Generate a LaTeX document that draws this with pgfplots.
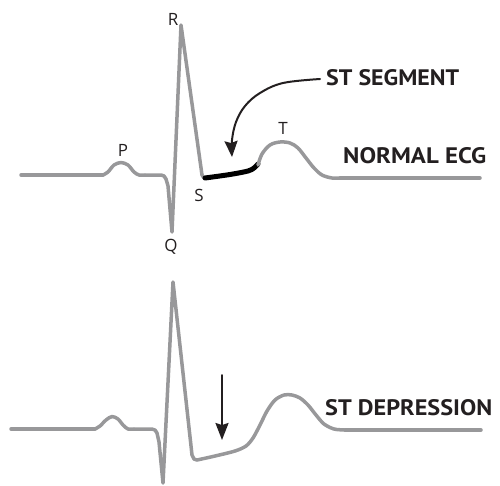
\documentclass[border=0pt]{standalone}
\usepackage{pgfplots}
\pgfplotsset{compat=1.18}
\usepackage{fontspec}
\setmainfont{Open Sans}
\newfontfamily\titlefont{PT Sans}
\usetikzlibrary{arrows.meta}
\definecolor{ecg}{RGB}{152,152,154}
\definecolor{ink}{RGB}{35,31,32}
\begin{document}
\begin{tikzpicture}
\begin{axis}[
  scale only axis, width=500bp, height=485bp,
  xmin=0, xmax=500, ymin=0, ymax=485, y dir=reverse,
  hide axis, clip=false,
  every axis plot/.append style={line cap=round, line join=round},
]
\addplot[draw=none] coordinates {(0,0) (500,485)};
% ---- Normal ECG ----
\addplot[ecg, line width=3.5bp, sharp plot] coordinates {(21,175) (103,175)};
\addplot[ecg, line width=3.5bp, smooth, tension=0.5] coordinates {(103,175) (108,172) (114,165) (121,162.5) (128,165) (134,172) (139,175) (145,175)};
\addplot[ecg, line width=3.5bp, sharp plot] coordinates {(145,175) (161,175) (164,176) (166,179) (168,186) (172,232) (181,25) (202,175) (204,178) (206,178)};
\addplot[black, line width=5bp, smooth, tension=0.5] coordinates {(205,178) (230,174.5) (248,171) (254,168) (258,164)};
\addplot[ecg, line width=3.5bp, smooth, tension=0.55] coordinates {(258,165) (262,154) (270,145) (280,142) (290,143) (298,148) (306,158) (314,168) (322,175) (332,178) (340,178)};
\addplot[ecg, line width=3.5bp, sharp plot] coordinates {(340,178) (480,178)};
% ---- ST depression ----
\addplot[ecg, line width=3.5bp, sharp plot] coordinates {(11,429) (95,429)};
\addplot[ecg, line width=3.5bp, smooth, tension=0.5] coordinates {(95,429) (100,426) (106,420) (112,416.5) (118,419) (123,425) (128,429) (134,429)};
\addplot[ecg, line width=3.5bp, sharp plot] coordinates {(134,429) (152,429) (155,430) (157,433) (159,442) (163,483) (173,282) (192,455) (194,459) (197,460)};
\addplot[ecg, line width=3.5bp, smooth, tension=0.5] coordinates {(197,460) (215,456) (235,451) (246,446) (253,438) (260,425) (267,411) (275,400) (284,395) (292,395) (300,398) (308,405) (316,415) (324,424) (334,429) (345,430)};
\addplot[ecg, line width=3.5bp, sharp plot] coordinates {(345,430) (481,430)};
% ---- arrows ----
\addplot[ink, line width=2bp, smooth, tension=0.6, -{Stealth[length=16bp, width=13bp, inset=2bp]}] coordinates {(320,79) (283,83) (260,93) (245,106) (236,122) (232,140) (232,157)};
\addplot[ink, line width=2bp, -{Stealth[length=17bp, width=13bp, inset=2bp]}] coordinates {(222,375) (222,440)};
% ---- labels ----
\node[ink, font=\fontsize{17}{17}\selectfont] at (axis cs:173,19) {R};
\node[ink, font=\fontsize{17}{17}\selectfont] at (axis cs:123,150) {P};
\node[ink, font=\fontsize{17}{17}\selectfont] at (axis cs:199,195) {S};
\node[ink, font=\fontsize{17}{17}\selectfont] at (axis cs:171,247) {Q};
\node[ink, font=\fontsize{17}{17}\selectfont] at (axis cs:283,128) {T};
\node[ink, anchor=west, inner sep=0pt, font=\titlefont\bfseries] at (axis cs:326,78) {\resizebox{133bp}{16bp}{ST SEGMENT}};
\node[ink, anchor=west, inner sep=0pt, font=\titlefont\bfseries] at (axis cs:343,156) {\resizebox{143bp}{16bp}{NORMAL ECG}};
\node[ink, anchor=west, inner sep=0pt, font=\titlefont\bfseries] at (axis cs:325,408) {\resizebox{167bp}{16bp}{ST DEPRESSION}};
\end{axis}
\end{tikzpicture}
\end{document}
